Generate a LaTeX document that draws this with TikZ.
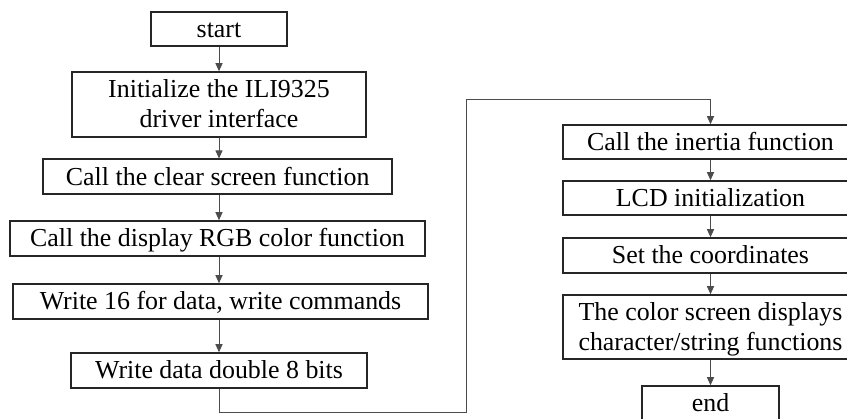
\documentclass[tikz,border=0pt]{standalone}
\usepackage{fontspec}
\setmainfont{Liberation Serif}
\usetikzlibrary{arrows.meta}
\begin{document}
\begin{tikzpicture}[x=1pt,y=1pt,
  box/.style={draw=black!85, line width=1.5pt, rectangle, inner sep=0pt,
    align=center, font=\fontsize{25.9}{30}\selectfont, minimum height=35pt,
    text height=17pt, text depth=0pt},
  twoline/.style={text height=47pt},
  flow/.style={draw=black!70, line width=0.9pt,
    -{Triangle[length=8pt,width=7pt]}}]
\useasboundingbox (0,0) rectangle (847,419);
\clip (0,0) rectangle (847,419);
\fill[white] (0,0) rectangle (847,419);

% left column
\node[box, minimum width=136pt, minimum height=34pt] (start) at (219,390) {start};
\node[box, twoline, minimum width=294pt, minimum height=65pt] (init) at (219,314.5)
  {Initialize the ILI9325\\driver interface};
\node[box, minimum width=349pt] (clear) at (217.7,242.3) {Call the clear screen function};
\node[box, minimum width=415pt] (rgb) at (217.5,180.5) {Call the display RGB color function};
\node[box, minimum width=415pt] (w16) at (220.5,117.5) {Write 16 for data, write commands};
\node[box, minimum width=296pt] (wdata) at (219,48.5) {Write data double 8 bits};

% right column
\node[box, minimum width=295pt, minimum height=34pt] (inertia) at (710.5,277) {Call the inertia function};
\node[box, minimum width=295pt, minimum height=34pt] (lcd) at (710.5,221) {LCD initialization};
\node[box, minimum width=295pt] (coord) at (710.5,163.5) {Set the coordinates};
\node[box, twoline, minimum width=295pt, minimum height=64pt] (disp) at (710.5,92)
  {The color screen displays\\character/string functions};
\node[box, minimum width=137pt, minimum height=34pt] (stop) at (710.5,16) {end};

% connectors
\draw[flow] (start.south) -- (start.south |- init.north);
\draw[flow] (init.south) -- (init.south |- clear.north);
\draw[flow] (init.south |- clear.south) -- (init.south |- rgb.north);
\draw[flow] (init.south |- rgb.south) -- (init.south |- w16.north);
\draw[flow] (init.south |- w16.south) -- (init.south |- wdata.north);

\coordinate (lo) at (466,7);
\coordinate (hi) at (466,320);
\draw[flow] (wdata.south) |- (lo) -- (hi) -| (inertia.north);

\draw[flow] (inertia.south) -- (lcd.north);
\draw[flow] (lcd.south) -- (coord.north);
\draw[flow] (coord.south) -- (disp.north);
\draw[flow] (disp.south) -- (stop.north);
\end{tikzpicture}
\end{document}
